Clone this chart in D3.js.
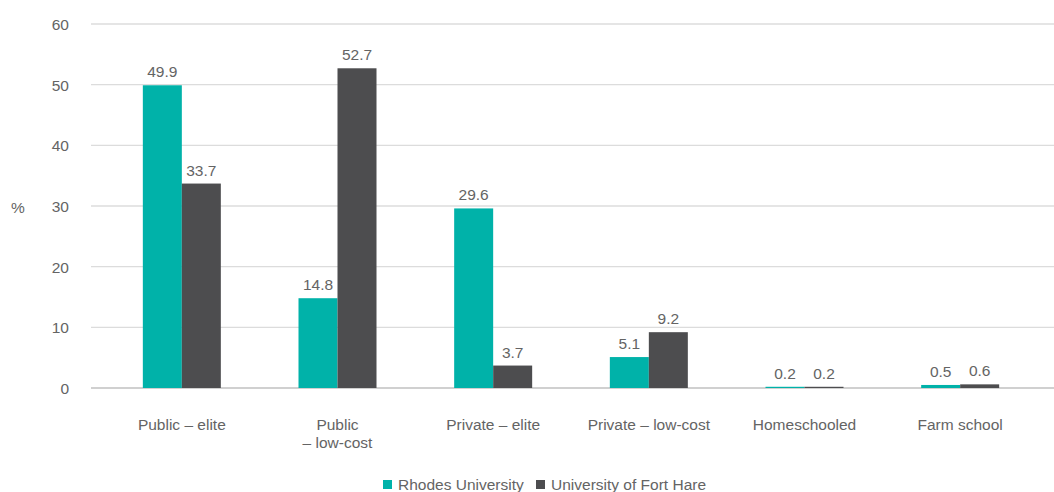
<!DOCTYPE html>
<html>
<head>
<meta charset="utf-8">
<script src="https://cdn.jsdelivr.net/npm/d3@7"></script>
<style>
  html, body { margin: 0; padding: 0; background: #fff; }
  svg text { font-family: "Liberation Sans", "Helvetica Neue", Arial, sans-serif; fill: #646464; }
</style>
</head>
<body>
<svg id="chart" width="1054" height="492"></svg>
<script>
// School type categories (second line after "\n")
const categories = ["Public – elite", "Public\n– low-cost", "Private – elite", "Private – low-cost", "Homeschooled", "Farm school"];
const seriesNames = ["Rhodes University", "University of Fort Hare"];
const rhodes = [49.9, 14.8, 29.6, 5.1, 0.2, 0.5];
const fortHare = [33.7, 52.7, 3.7, 9.2, 0.2, 0.6];
const yTicks = [0, 10, 20, 30, 40, 50, 60];
const colors = ["#00b2a9", "#4d4d4f"];
const fs = 15.5;

const svg = d3.select("#chart");

const x = d3.scaleBand().domain(categories).range([104, 1038]).paddingInner(0).paddingOuter(0);
const x1 = d3.scaleBand().domain(seriesNames).range([x.bandwidth() / 2 - 39, x.bandwidth() / 2 + 39]);
const y = d3.scaleLinear().domain([0, 60]).range([388, 24]);

// Horizontal gridlines with tick labels
const yAxis = d3.axisLeft(y).tickValues(yTicks).tickSize(0).tickPadding(0);
const gy = svg.append("g").attr("transform", "translate(69,0)").call(yAxis);
gy.select(".domain").remove();
gy.selectAll("text").attr("font-size", fs).attr("dy", "0.35em");

svg.append("g").selectAll("line").data(yTicks).join("line")
  .attr("x1", 91).attr("x2", 1054)
  .attr("y1", d => y(d)).attr("y2", d => y(d))
  .attr("stroke", d => d === 0 ? "#d0d0d0" : "#dcdcdc")
  .attr("stroke-width", d => d === 0 ? 2 : 1.3);

svg.append("text").attr("x", 18).attr("y", 208).attr("dy", "0.35em")
  .attr("text-anchor", "middle").attr("font-size", fs).text("%");

// Grouped bars
const rows = categories.map((c, i) => ({ cat: c, vals: [rhodes[i], fortHare[i]] }));
const groups = svg.append("g").selectAll("g").data(rows).join("g")
  .attr("transform", d => `translate(${x(d.cat)},0)`);

groups.selectAll("rect").data(d => d.vals.map((v, j) => ({ name: seriesNames[j], v, j })))
  .join("rect")
  .attr("x", d => x1(d.name))
  .attr("width", x1.bandwidth())
  .attr("y", d => y(d.v))
  .attr("height", d => y(0) - y(d.v))
  .attr("fill", d => colors[d.j]);

groups.selectAll("text.val").data(d => d.vals.map((v, j) => ({ name: seriesNames[j], v, j })))
  .join("text").attr("class", "val")
  .attr("x", d => x1(d.name) + x1.bandwidth() / 2)
  .attr("y", d => y(d.v) - 8)
  .attr("text-anchor", "middle").attr("font-size", fs)
  .text(d => d.v.toFixed(1));

// Category labels
const xl = svg.append("g").selectAll("text").data(categories).join("text")
  .attr("x", d => x(d) + x.bandwidth() / 2)
  .attr("y", 430)
  .attr("text-anchor", "middle").attr("font-size", fs);
xl.each(function(d) {
  const lines = d.split("\n");
  d3.select(this).selectAll("tspan").data(lines).join("tspan")
    .attr("x", x(d) + x.bandwidth() / 2)
    .attr("dy", (l, i) => i === 0 ? 0 : 18)
    .text(l => l);
});

// Legend
const legend = svg.append("g");
const legendItems = [{ name: seriesNames[0], x: 383 }, { name: seriesNames[1], x: 536 }];
legendItems.forEach((it, i) => {
  legend.append("rect").attr("x", it.x).attr("y", 480).attr("width", 9).attr("height", 9).attr("fill", colors[i]);
  legend.append("text").attr("x", it.x + 15).attr("y", 490).attr("font-size", fs).text(it.name);
});
</script>
</body>
</html>
